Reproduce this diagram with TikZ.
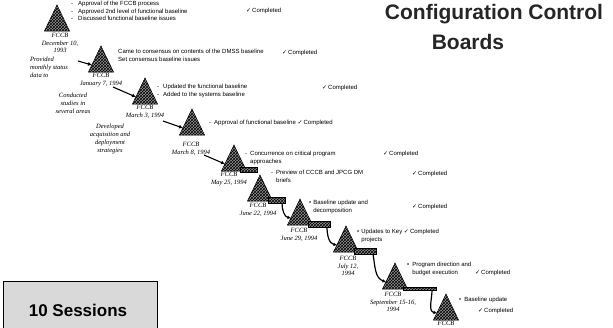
\documentclass[tikz,border=0pt]{standalone}
\usepackage{fontspec}
\setmainfont{Liberation Sans}
\newfontfamily\datefont{Liberation Serif}
\newfontfamily\symfont{DejaVu Sans}
\usetikzlibrary{patterns,arrows.meta}

\newcommand\done{{\symfont\char"2713}\,Completed}

% one FCCB meeting: a hatched triangle with its apex at (#2,#3)
\newcommand\fccbmark[3]{%
  \coordinate (#1) at (#2,#3);
  \coordinate (#1-l) at (#2-12.5,#3+26);
  \coordinate (#1-r) at (#2+12.5,#3+26);
  \coordinate (#1-w) at (#2-9,#3+19);
  \draw[board] (#1) -- (#1-l) -- (#1-r) -- cycle;
}

\tikzset{
  board/.style={draw=black, line width=0.5pt, fill=black!42,
    postaction={pattern=crosshatch, pattern color=black}},
  strip/.style={draw=black, line width=0.3pt, fill=black!42,
    postaction={pattern=crosshatch, pattern color=black}},
  item/.style={anchor=north west, inner sep=0pt, align=left,
    font=\fontsize{6}{7.5}\selectfont},
  status/.style={anchor=west, inner sep=0pt, font=\fontsize{6}{7.5}\selectfont},
  datelabel/.style={anchor=north, inner sep=0pt, align=center,
    font=\datefont\itshape\fontsize{6.5}{7.5}\selectfont},
  note/.style={inner sep=0pt, align=center,
    font=\datefont\itshape\fontsize{6.5}{8}\selectfont},
  pointer/.style={line width=1.1pt, -{Latex[length=4pt,width=4pt]}},
  link/.style={line width=1.2pt, -{Latex[length=3.5pt,width=3.5pt]}},
  title/.style={inner sep=0pt, text=black!85,
    font=\bfseries\fontsize{21}{24}\selectfont},
}

\begin{document}
\begin{tikzpicture}[x=1pt,y=-1pt]
\useasboundingbox (0,0) rectangle (613,327);
\fill[white] (0,0) rectangle (613,327);

% title
\node[title] (ttl1) at (494,14) {Configuration Control};
\node[title] (ttl2) at (468,42) {Boards};

% session count
\node[draw=black, line width=0.8pt, fill=gray!30, minimum width=154pt,
  minimum height=60pt, anchor=north west, inner sep=0pt] (box) at (3,281) {};
\node[inner sep=0pt, font=\bfseries\fontsize{17}{20}\selectfont] (sess) at (78,310) {10 Sessions};

% the meetings
\fccbmark{t1}{57}{5}
\fccbmark{t2}{101}{46}
\fccbmark{t3}{145}{78}
\fccbmark{t4}{192}{109}
\fccbmark{t5}{234}{145}
\fccbmark{t6}{260}{175}
\fccbmark{t7}{300}{199}
\fccbmark{t8}{346}{226}
\fccbmark{t9}{395}{263}
\fccbmark{t10}{446}{294}

% dates
\node[datelabel] (d1) at (60,33) {FCCB\\December 10,\\1993};
\node[datelabel] (d2) at (101,73) {FCCB\\January 7, 1994};
\node[datelabel] (d3) at (145,105) {FCCB\\March 3, 1994};
\node[datelabel] (d4) at (191,142) {FCCB\\March 8, 1994};
\node[datelabel] (d5) at (229,172) {FCCB\\May 25, 1994};
\node[datelabel] (d6) at (258,203) {FCCB\\June 22, 1994};
\node[datelabel] (d7) at (299,228) {FCCB\\June 29, 1994};
\node[datelabel] (d8) at (348,256) {FCCB\\July 12,\\1994};
\node[datelabel] (d9) at (393,292) {FCCB\\September 15-16,\\1994};
\node[datelabel] (d10) at (446,320.5) {FCCB};

% work done between meetings
\node[note, anchor=north west, align=left] (n1) at (30,57) {Provided\\monthly status\\data to};
\node[note] (n2) at (73,103) {Conducted\\studies in\\several areas};
\node[note] (n3) at (110,139) {Developed\\acquisition and\\deployment\\strategies};

% outcomes
\node[item] (o1) at (71,1) {-\hspace{5pt}Approval of the FCCB process\\-\hspace{5pt}Approved 2nd level of functional baseline\\-\hspace{5pt}Discussed functional baseline issues};
\node[status] (c1) at (246,11) {\done};
\node[item] (o2) at (118,49) {Came to consensus on contents of the DMSS baseline\\Set consensus baseline issues};
\node[status] (c2) at (282,53) {\done};
\node[item] (o3) at (157,84) {-\hspace{4pt}Updated the functional baseline\\-\hspace{4pt}Added to the systems baseline};
\node[status] (c3) at (322,88) {\done};
\node[item] (o4) at (209,120) {-\hspace{3pt}Approval of functional baseline \done};
\node[item] (o5) at (245,151) {-\hspace{3pt}Concurrence on critical program\\\phantom{-\hspace{3pt}}approaches};
\node[status] (c5) at (383,154) {\done};
\node[item] (o6) at (271,170) {-\hspace{3pt}Preview of CCCB and JPCG DM\\\phantom{-\hspace{3pt}}briefs};
\node[status] (c6) at (412,174) {\done};
\node[item] (o7) at (309,200) {\textbullet\hspace{2pt}Baseline update and\\\phantom{\textbullet\hspace{2pt}}decomposition};
\node[status] (c7) at (412,207) {\done};
\node[item] (o8) at (357,229) {\textbullet\hspace{2pt}Updates to Key \done\\\phantom{\textbullet\hspace{2pt}}projects};
\node[item] (o9) at (407,262) {\textbullet\hspace{3pt}Program direction and\\\phantom{\textbullet\hspace{3pt}}budget execution};
\node[status] (c9) at (475,273) {\done};
\node[item] (o10) at (459,297) {\textbullet\hspace{3pt}Baseline update};
\node[status] (c10) at (478,311) {\done};

% inputs to the early meetings
\coordinate (p2) at (78,61);
\coordinate (p3) at (113,87);
\coordinate (p4) at (163,121);
\coordinate (p5) at (204,155);
\draw[pointer] (p2) -- (t2-w);
\draw[pointer] (p3) -- (t3-w);
\draw[pointer] (p4) -- (t4-w);
\draw[pointer] (p5) -- (t5-w);

% hand-off strips between later meetings
\draw[strip] (240,167) rectangle (257,172);
\draw[strip] (268,197) rectangle (285,203);
\draw[strip] (308,221) rectangle (330,227);
\draw[strip] (354,248) rectangle (376,254);
\draw[strip] (403,287) rectangle (436,290);
\coordinate (s6) at (282,203);
\coordinate (s7) at (327,227);
\coordinate (s8) at (373,254);
\coordinate (s9) at (432,290);
\draw[link] (s6) to[out=-90,in=170] (t7-w);
\draw[link] (s7) to[out=-90,in=170] (t8-w);
\draw[link] (s8) to[out=-80,in=160] (t9-w);
\draw[link] (s9) to[out=-90,in=170] (t10-w);
\end{tikzpicture}
\end{document}
